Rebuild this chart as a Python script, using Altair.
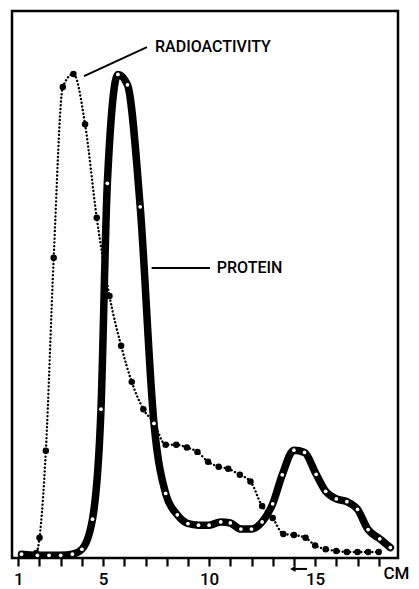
import altair as alt
import pandas as pd

# ---- data (x in cm, y in arbitrary units) ----
radio_cm = [1.2, 1.85, 2.0, 2.3, 2.67, 3.1, 3.6, 4.15, 4.7, 5.3, 5.85, 6.35, 6.9, 7.4,
            7.95, 8.45, 8.95, 9.45, 9.95, 10.45, 10.9, 11.45, 11.95, 12.5, 13.0, 13.5,
            14.0, 14.55, 15.0, 15.5, 16.0, 16.5, 17.0, 17.5, 18.0]
radio_val = [0.6, 0.9, 3.7, 19.6, 54.9, 86.1, 88.5, 79.3, 62.2, 47.9, 38.8, 32.2, 27.2, 24.7,
             20.7, 20.7, 20.2, 19.4, 17.6, 16.7, 16.3, 15.2, 14.0, 9.5, 7.3, 4.4,
             4.2, 3.7, 2.3, 1.6, 1.3, 1.1, 1.1, 1.1, 1.1]

protein_cm = [1.15, 1.9, 2.45, 3.0, 3.55, 4.0, 4.5, 4.9, 5.2, 5.7, 6.15, 6.75, 7.4, 7.95,
              8.5, 9.0, 9.5, 10.0, 10.55, 11.0, 11.5, 12.0, 12.5, 13.0, 13.45, 14.0,
              14.5, 15.05, 15.5, 16.0, 16.5, 17.0, 17.5, 18.05, 18.55]
protein_val = [0.7, 0.5, 0.5, 0.5, 0.7, 1.6, 7.1, 27.2, 68.5, 88.4, 86.5, 64.2, 24.6, 11.8,
               7.9, 6.3, 6.0, 6.0, 6.6, 6.4, 5.3, 5.3, 6.6, 9.9, 15.2, 19.7,
               19.3, 15.3, 12.2, 10.8, 10.3, 8.9, 5.2, 3.5, 1.9]

tick_cm = list(range(1, 19))
tick_labels = ["1", "5", "10", "15"]

label_text = ["RADIOACTIVITY", "PROTEIN"]
label_cm = [7.45, 10.36]
label_val = [93.5, 53.0]

leader_cm = [4.10, 7.29]
leader_cm2 = [7.07, 10.04]
leader_val = [88.1, 53.0]
leader_val2 = [93.4, 53.0]

unit_text = ["CM"]
unit_cm = [19.45]
unit_val = [-2.9]

arrow_cm = [13.95]
arrow_cm2 = [14.62]
arrow_val = [-2.0]

# ---- chart ----
FONT = "Roboto, Liberation Sans, sans-serif"

xs = alt.Scale(domain=[0.703, 18.91], nice=False, zero=False)
ys = alt.Scale(domain=[0, 100], nice=False, zero=False)

label_expr = " || ".join([f"datum.label == '{t}'" for t in tick_labels])
xaxis = alt.Axis(values=tick_cm, labelExpr=f"({label_expr}) ? datum.label : ''",
                 title=None, grid=False, domain=False, ticks=True, tickSize=8,
                 tickWidth=2.2, tickColor="black", labelColor="black",
                 labelFont=FONT, labelFontSize=17, labelFontWeight=500, labelPadding=5,
                 labelOverlap=False, labelFlush=False)

X = alt.X("cm:Q", scale=xs, axis=xaxis)
Y = alt.Y("val:Q", scale=ys, axis=None)

prot = pd.DataFrame({"cm": protein_cm, "val": protein_val})
rad = pd.DataFrame({"cm": radio_cm, "val": radio_val})
labels = pd.DataFrame({"cm": label_cm, "val": label_val, "text": label_text})
leaders = pd.DataFrame({"cm": leader_cm, "cm2": leader_cm2, "val": leader_val, "val2": leader_val2})
units = pd.DataFrame({"cm": unit_cm, "val": unit_val, "text": unit_text})
arrow = pd.DataFrame({"cm": arrow_cm, "cm2": arrow_cm2, "val": arrow_val})

prot_line = alt.Chart(prot).mark_line(color="black", strokeWidth=7.5, interpolate="monotone",
                                      strokeCap="round", strokeJoin="round").encode(x=X, y=Y)
rad_line = alt.Chart(rad).mark_line(color="black", strokeWidth=2.4, strokeDash=[0.1, 3.6],
                                    strokeCap="round", interpolate="monotone").encode(x=X, y=Y)
rad_pts = alt.Chart(rad).mark_circle(color="black", size=42, opacity=1).encode(x=X, y=Y)
prot_pts = alt.Chart(prot).mark_circle(color="white", size=14, opacity=1).encode(x=X, y=Y)

lead = alt.Chart(leaders).mark_rule(color="black", strokeWidth=2).encode(
    x=X, x2="cm2:Q", y=Y, y2="val2:Q")

txt_radio = alt.Chart(labels.iloc[[0]]).mark_text(
    align="left", baseline="middle", font=FONT, fontSize=16, fontWeight=500, color="black"
).encode(x=X, y=Y, text="text:N")
txt_prot = alt.Chart(labels.iloc[[1]]).mark_text(
    align="left", baseline="middle", font=FONT, fontSize=16, fontWeight=500, color="black"
).encode(x=X, y=Y, text="text:N")
txt_cm = alt.Chart(units).mark_text(
    align="right", baseline="middle", font=FONT, fontSize=17, fontWeight=500, color="black", clip=False
).encode(x=X, y=Y, text="text:N")

arrow_shaft = alt.Chart(arrow).mark_rule(color="black", strokeWidth=2, clip=False).encode(
    x=X, x2="cm2:Q", y=Y)
arrow_head = alt.Chart(arrow).mark_point(shape="triangle-left", filled=True, color="black",
                                         size=40, opacity=1, clip=False).encode(x=X, y=Y)

chart = alt.layer(prot_line, rad_line, rad_pts, prot_pts, lead, txt_radio, txt_prot,
                  txt_cm, arrow_shaft, arrow_head).properties(
    width=386, height=547,
    autosize=alt.AutoSizeParams(type="none"),
    padding={"left": 4, "top": 3, "right": 13, "bottom": 33},
    background="white",
).configure_view(stroke="black", strokeWidth=2.5)

chart.save("out.html", embed_options={"renderer": "svg", "actions": False})
